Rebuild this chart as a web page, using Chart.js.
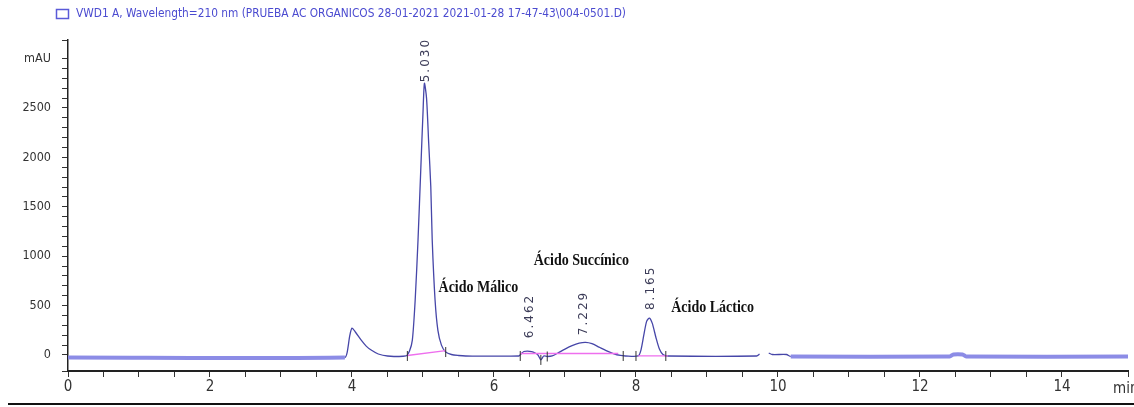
<!DOCTYPE html>
<html><head><meta charset="utf-8">
<script src="https://cdn.jsdelivr.net/npm/chart.js@4.4.1/dist/chart.umd.min.js"></script>
<style>html,body{margin:0;padding:0;background:#fff;overflow:hidden}#wrap{width:1134px;height:407px;position:relative}</style>
</head><body><div id="wrap"><canvas id="c" width="1134" height="407"></canvas></div>
<script>
// ---------------- data ----------------
const legendText = 'VWD1 A, Wavelength=210 nm (PRUEBA AC ORGANICOS 28-01-2021 2021-01-28 17-47-43\\004-0501.D)';
const timeMin = [0, 3.9, 3.93, 3.97, 4.0, 4.05, 4.13, 4.2, 4.27, 4.37, 4.5, 4.76, 4.81, 4.85, 4.89, 4.93, 4.97, 5.0, 5.02, 5.05, 5.08, 5.11, 5.13, 5.17, 5.21, 5.26, 5.32, 5.4, 5.5, 5.6, 6.35, 6.38, 6.42, 6.47, 6.53, 6.58, 6.62, 6.66, 6.7, 6.75, 6.82, 6.9, 7.0, 7.1, 7.2, 7.29, 7.38, 7.48, 7.58, 7.68, 7.78, 7.85, 8.03, 8.07, 8.11, 8.15, 8.19, 8.23, 8.28, 8.33, 8.38, 8.45, 9.7, 9.74, 9.8, 9.87, 9.92, 10.12, 10.18, 12.42, 12.47, 12.6, 12.65, 14.93];
const signalMAU = [-25, -25, 20, 200, 272, 230, 150, 90, 50, 10, -10, -10, 40, 150, 557, 1164, 1900, 2450, 2750, 2600, 2150, 1700, 1164, 557, 250, 100, 30, 5, -5, -10, -10, 10, 35, 40, 35, 20, 0, -50, -10, -15, -10, 20, 60, 95, 120, 128, 115, 80, 45, 15, -5, -10, -10, 50, 200, 340, 374, 320, 180, 60, 5, -10, -10, 10, null, 20, 5, 5, -15, -15, 5, 5, -15, -15];
const baselineT = [4.78, 5.32, 5.4, 6.37, 7.75, 7.9, 8.03, 8.45];
const baselineV = [-5, 45, null, 15, 15, null, -8, -8];
const markT = [4.78, 5.32, 6.37, 6.66, 6.75, 7.82, 8.0, 8.42];
const markV = [-10, 30, -10, -50, -15, -10, -10, -10];
const compoundNames = ['Ácido Málico', 'Ácido Succínico', 'Ácido Láctico'];
const compoundT = [5.78, 7.23, 9.08];
const compoundV = [678, 951, 476];
const rtLabels = ['5.030', '6.462', '7.229', '8.165'];
const rtT = [5.0, 6.462, 7.229, 8.165];
const rtV = [2740, 150, 180, 435];
const xMin = 0, xMax = 14.93, xStep = 0.5;
const yMin = -162, yMax = 3188, yStep = 100;

const narrow = "'Liberation Sans Narrow','DejaVu Sans Condensed','Liberation Sans',sans-serif";

const decorPlugin = {
  id: 'decor',
  afterDatasetsDraw(chart) {
    const ctx = chart.ctx, xs = chart.scales.x, ys = chart.scales.y;
    ctx.save();
    // compound names
    ctx.fillStyle = '#111';
    ctx.font = "bold 14px 'Liberation Serif','Times New Roman',serif";
    ctx.textAlign = 'center'; ctx.textBaseline = 'middle';
    compoundNames.forEach((n, i) => {
      const px = xs.getPixelForValue(compoundT[i]), py = ys.getPixelForValue(compoundV[i]);
      ctx.save(); ctx.translate(px, py); ctx.scale(1, 1.2); ctx.fillText(n, 0, 0); ctx.restore();
    });
    // retention time labels
    ctx.fillStyle = '#3c3c58';
    ctx.font = "12px 'DejaVu Sans',sans-serif";
    ctx.textAlign = 'left'; ctx.textBaseline = 'middle';
    try { ctx.letterSpacing = '2px'; } catch (e) {}
    rtLabels.forEach((l, i) => {
      const px = xs.getPixelForValue(rtT[i]) + 3, py = ys.getPixelForValue(rtV[i]) - 2;
      ctx.save(); ctx.translate(px, py); ctx.rotate(-Math.PI / 2); ctx.fillText(l, 0, 0); ctx.restore();
    });
    try { ctx.letterSpacing = '0px'; } catch (e) {}
    ctx.restore();
  },
  afterDraw(chart) {
    const ctx = chart.ctx, xs = chart.scales.x;
    ctx.save();
    // legend
    ctx.strokeStyle = '#5a5ad8'; ctx.lineWidth = 1.5;
    ctx.strokeRect(56.5, 9.5, 12, 9);
    ctx.fillStyle = '#4b4bd0';
    ctx.font = "11px " + narrow;
    ctx.textBaseline = 'middle'; ctx.textAlign = 'left';
    const w = ctx.measureText(legendText).width;
    ctx.save(); ctx.translate(76, 14); ctx.scale(550 / w, 1.1); ctx.fillText(legendText, 0, 0); ctx.restore();
    // axis unit
    ctx.fillStyle = '#333';
    ctx.font = "15px " + narrow;
    ctx.fillText('min', xs.right - 15, 389);
    // bottom rule
    ctx.fillStyle = '#111';
    ctx.fillRect(8, 403, 1126, 2);
    ctx.restore();
  }
};

new Chart(document.getElementById('c'), {
  type: 'line',
  data: {
    datasets: [
      {
        label: 'signal',
        data: timeMin.map((t, i) => ({x: t, y: signalMAU[i]})),
        borderColor: '#4646a8', borderWidth: 1.3, pointRadius: 0, tension: 0.25, spanGaps: false,
        segment: {
          borderWidth: c => (c.p0.parsed.x < 3.9 || c.p0.parsed.x >= 10.18) ? 4 : 1.3,
          borderColor: c => (c.p0.parsed.x < 3.9 || c.p0.parsed.x >= 10.18) ? '#8c8ce6' : '#4646a8'
        },
        order: 2
      },
      {
        label: 'baseline',
        data: baselineT.map((t, i) => ({x: t, y: baselineV[i]})),
        borderColor: '#ee6fee', borderWidth: 1.3, pointRadius: 0, spanGaps: false, order: 1
      },
      {
        label: 'marks',
        type: 'scatter',
        data: markT.map((t, i) => ({x: t, y: markV[i]})),
        showLine: false, pointStyle: 'line', rotation: 90, pointRadius: 5,
        borderColor: '#333', borderWidth: 1, order: 0
      }
    ]
  },
  options: {
    responsive: false, animation: false,
    layout: {padding: {top: 40, left: 0, right: 0, bottom: 0}},
    plugins: {legend: {display: false}, tooltip: {enabled: false}},
    scales: {
      x: {
        type: 'linear', min: xMin, max: xMax,
        afterFit: s => { s.height = 36; },
        border: {color: '#222', width: 2},
        grid: {drawOnChartArea: false, tickLength: 6, color: '#333'},
        ticks: {stepSize: xStep, autoSkip: false, maxRotation: 0, padding: 1, color: '#333',
          font: {family: narrow, size: 15},
          callback: v => (Math.abs(v % 2) < 1e-9 ? String(v) : '')}
      },
      y: {
        type: 'linear', min: yMin, max: yMax,
        afterFit: s => { s.width = 68; },
        border: {color: '#222', width: 1.5},
        grid: {drawOnChartArea: false, tickLength: 6, color: '#333'},
        ticks: {stepSize: yStep, autoSkip: false, padding: 11, color: '#333',
          font: {family: narrow, size: 12.5},
          callback: v => (v === 3000 ? 'mAU' : (v % 500 === 0 ? String(v) : ''))}
      }
    }
  },
  plugins: [decorPlugin]
});
</script>
</body></html>
